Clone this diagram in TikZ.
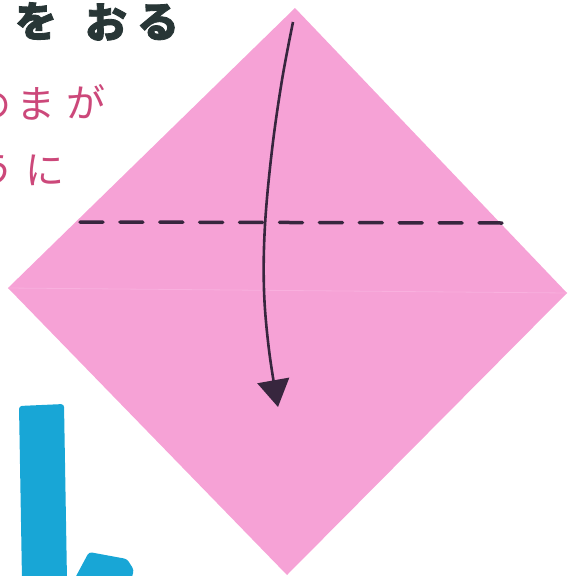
\documentclass[tikz,border=0pt]{standalone}
\usepackage{fontspec}
\newfontfamily\jpfont{Noto Sans CJK JP}
\newfontfamily\jpheavy[FakeBold=2]{Noto Sans CJK JP}
\usetikzlibrary{arrows.meta}

\definecolor{paper}{RGB}{246,162,214}
\definecolor{crease}{RGB}{249,176,222}
\definecolor{ink}{RGB}{55,38,62}
\definecolor{titleink}{RGB}{40,54,54}
\definecolor{notepink}{RGB}{204,72,122}
\definecolor{markblue}{RGB}{24,166,214}

\begin{document}
\begin{tikzpicture}[
      x = 1pt, y = -1pt,
      titlechar/.style = {
        text = titleink,
        font = \jpheavy\bfseries\fontsize{42}{44}\selectfont,
        inner sep = 0,
      },
      notechar/.style = {
        text = notepink,
        font = \jpfont\fontsize{39}{42}\selectfont,
        inner sep = 0,
      },
      foldline/.style = {
        draw = ink,
        line width = 3.5pt,
        line cap = round,
        dash pattern = on 23pt off 16.9pt,
      },
      arrowline/.style = {
        draw = ink,
        line width = 2.6pt,
        -{Triangle[width = 32pt, length = 27pt]},
      },
    ]
    \useasboundingbox (0,0) rectangle (570,576);
    \clip (0,0) rectangle (570,576);

    % corners of the paper
    \coordinate (top)    at (295,8);
    \coordinate (right)  at (567,293);
    \coordinate (bottom) at (287,575);
    \coordinate (left)   at (8,288);

    \fill[paper] (top) -- (right) -- (bottom) -- (left) -- cycle;
    \draw[crease, line width = .8pt] (left) -- (right);

    % valley fold
    \coordinate (foldA) at (80,222);
    \coordinate (foldB) at (502,223);
    \draw[foldline] (foldA) -- (foldB);

    % fold arrow
    \coordinate (arrowA) at (293,22);
    \coordinate (arrowB) at (278,407);
    \draw[arrowline] plot[smooth, tension = .6] coordinates
      {(arrowA) (282,80) (272,150) (265,225) (264,290) (269,350) (arrowB)};

    % title (cut at the page edge)
    \node[titlechar] (t0) at (-24,22) {て};
    \node[titlechar] (t1) at (36,21)  {を};
    \node[titlechar] (t2) at (106,22) {お};
    \node[titlechar] (t3) at (158,22) {る};

    % note lines
    \node[notechar] (n0) at (-8,103) {め};
    \node[notechar] (n1) at (36,104) {ま};
    \node[notechar] (n2) at (86,102) {が};
    \node[notechar] (m0) at (-5,170) {う};
    \node[notechar] (m1) at (45,170) {に};

    % big blue letter, cut at the bottom
    \fill[markblue, rounded corners = 3pt]
      (19,406) -- (64,404) -- (67,580) -- (22,580) -- cycle;
    \fill[markblue, rounded corners = 3pt]
      (74,580) -- (89,552) -- (127,559) -- (134,570) -- (131,580) -- cycle;
\end{tikzpicture}
\end{document}
